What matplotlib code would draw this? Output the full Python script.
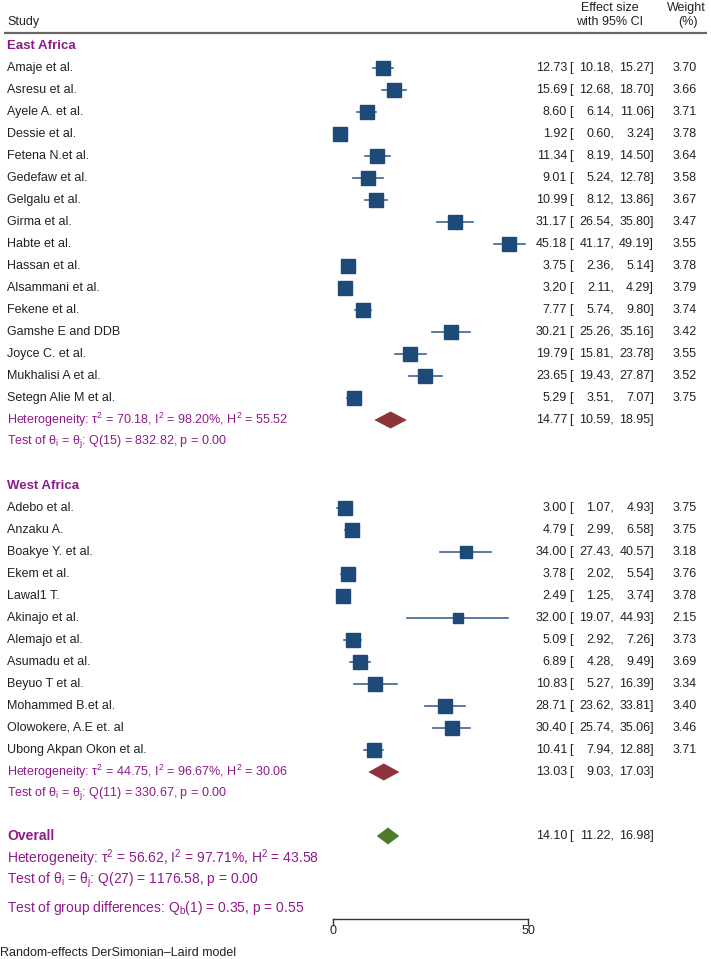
import numpy as np
import matplotlib.pyplot as plt

plt.rcParams['font.family'] = ['Liberation Sans', 'DejaVu Sans']
plt.rcParams['mathtext.fontset'] = 'custom'
plt.rcParams['mathtext.rm'] = 'Liberation Sans'
plt.rcParams['mathtext.it'] = 'Liberation Sans:italic'

# East Africa studies
east_studies = ['Amaje et al.', 'Asresu et al.', 'Ayele A. et al.', 'Dessie et al.',
                'Fetena N.et al.', 'Gedefaw et al.', 'Gelgalu et al.', 'Girma et al.',
                'Habte et al.', 'Hassan et al.', 'Alsammani et al.', 'Fekene et al.',
                'Gamshe E and DDB', 'Joyce C. et al.', 'Mukhalisi A et al.', 'Setegn Alie M et al.']
east_es = [12.73, 15.69, 8.60, 1.92, 11.34, 9.01, 10.99, 31.17, 45.18, 3.75, 3.20, 7.77,
           30.21, 19.79, 23.65, 5.29]
east_lo = [10.18, 12.68, 6.14, 0.60, 8.19, 5.24, 8.12, 26.54, 41.17, 2.36, 2.11, 5.74,
           25.26, 15.81, 19.43, 3.51]
east_hi = [15.27, 18.70, 11.06, 3.24, 14.50, 12.78, 13.86, 35.80, 49.19, 5.14, 4.29, 9.80,
           35.16, 23.78, 27.87, 7.07]
east_w = [3.70, 3.66, 3.71, 3.78, 3.64, 3.58, 3.67, 3.47, 3.55, 3.78, 3.79, 3.74,
          3.42, 3.55, 3.52, 3.75]

# West Africa studies
west_studies = ['Adebo et al.', 'Anzaku A.', 'Boakye Y. et al.', 'Ekem et al.', 'Lawal1 T.',
                'Akinajo et al.', 'Alemajo et al.', 'Asumadu et al.', 'Beyuo T et al.',
                'Mohammed B.et al.', 'Olowokere, A.E et. al', 'Ubong Akpan Okon et al.']
west_es = [3.00, 4.79, 34.00, 3.78, 2.49, 32.00, 5.09, 6.89, 10.83, 28.71, 30.40, 10.41]
west_lo = [1.07, 2.99, 27.43, 2.02, 1.25, 19.07, 2.92, 4.28, 5.27, 23.62, 25.74, 7.94]
west_hi = [4.93, 6.58, 40.57, 5.54, 3.74, 44.93, 7.26, 9.49, 16.39, 33.81, 35.06, 12.88]
west_w = [3.75, 3.75, 3.18, 3.76, 3.78, 2.15, 3.73, 3.69, 3.34, 3.40, 3.46, 3.71]

# pooled estimates (es, lo, hi)
east_pool = (14.77, 10.59, 18.95)
west_pool = (13.03, 9.03, 17.03)
overall_pool = (14.10, 11.22, 16.98)

east_het = r'Heterogeneity: τ$^2$ = 70.18, I$^2$ = 98.20%, H$^2$ = 55.52'
east_test = r'Test of θ$_\mathrm{i}$ = θ$_\mathrm{j}$: Q(15) = 832.82, p = 0.00'
west_het = r'Heterogeneity: τ$^2$ = 44.75, I$^2$ = 96.67%, H$^2$ = 30.06'
west_test = r'Test of θ$_\mathrm{i}$ = θ$_\mathrm{j}$: Q(11) = 330.67, p = 0.00'
all_het = r'Heterogeneity: τ$^2$ = 56.62, I$^2$ = 97.71%, H$^2$ = 43.58'
all_test = r'Test of θ$_\mathrm{i}$ = θ$_\mathrm{j}$: Q(27) = 1176.58, p = 0.00'
group_test = r'Test of group differences: Q$_\mathrm{b}$(1) = 0.35, p = 0.55'

x_ticks = [0, 50]

BLUE = '#1d4a78'
RED = '#8c3439'
GREEN = '#4f7a2c'
PURPLE = '#8e1b8c'
TXT = '#222222'

W, H = 711, 959
fig = plt.figure(figsize=(W / 100, H / 100), dpi=100)
ax = fig.add_axes([0, 0, 1, 1])
x0, scale = 333, 3.9  # pixel of 0, pixels per unit
ax.set_xlim(-x0 / scale, (W - x0) / scale)
ax.set_ylim(H, 0)
ax.axis('off')


def px(p):
    return (p - x0) / scale


def ci_text(y, es, lo, hi, w=None):
    ax.text(px(567), y, f'{es:.2f}', ha='right', va='center', fontsize=9, color=TXT)
    ax.text(px(569), y, '[', ha='left', va='center', fontsize=9, color=TXT)
    ax.text(px(614), y, f'{lo:.2f},', ha='right', va='center', fontsize=9, color=TXT)
    ax.text(px(654), y, f'{hi:.2f}]', ha='right', va='center', fontsize=9, color=TXT)
    if w is not None:
        ax.text(px(697), y, f'{w:.2f}', ha='right', va='center', fontsize=9, color=TXT)


def diamond(y, es, lo, hi, color):
    ax.fill([lo, es, hi, es], [y, y - 8.5, y, y + 8.5], color=color, lw=0)


# header
ax.text(px(7), 22, 'Study', ha='left', va='center', fontsize=9, color=TXT)
ax.text(px(610), 8, 'Effect size', ha='center', va='center', fontsize=9, color=TXT)
ax.text(px(610), 22, 'with 95% CI', ha='center', va='center', fontsize=9, color=TXT)
ax.text(px(686), 8, 'Weight', ha='center', va='center', fontsize=9, color=TXT)
ax.text(px(688), 22, '(%)', ha='center', va='center', fontsize=9, color=TXT)
ax.plot([px(4), px(707)], [33, 33], color='#666666', lw=1.6, solid_capstyle='butt')


def group(y_head, name, studies, es, lo, hi, w, pool, het, test):
    ax.text(px(7), y_head, name, ha='left', va='center', fontsize=9.5,
            fontweight='bold', color=PURPLE)
    y = y_head + 22
    for s, e, l, h, wt in zip(studies, es, lo, hi, w):
        ax.text(px(7), y, s, ha='left', va='center', fontsize=9, color=TXT)
        ax.plot([l, h], [y, y], color=BLUE, lw=1.2, alpha=0.85)
        ax.plot(e, y, marker='s', ms=10 * np.sqrt(wt / 3.7), color=BLUE, mec=BLUE)
        ci_text(y, e, l, h, wt)
        y += 22
    ax.text(px(7), y, het, ha='left', va='center', fontsize=9, color=PURPLE)
    diamond(y, pool[0], pool[1], pool[2], RED)
    ci_text(y, *pool)
    ax.text(px(7), y + 22, test, ha='left', va='center', fontsize=9, color=PURPLE)
    return y + 22


y_end = group(46, 'East Africa', east_studies, east_es, east_lo, east_hi, east_w,
              east_pool, east_het, east_test)
y_end = group(y_end + 44, 'West Africa', west_studies, west_es, west_lo, west_hi, west_w,
              west_pool, west_het, west_test)

# overall
y = y_end + 42
ax.text(px(7), y, 'Overall', ha='left', va='center', fontsize=10,
        fontweight='bold', color=PURPLE)
diamond(y, overall_pool[0], overall_pool[1], overall_pool[2], GREEN)
ci_text(y, *overall_pool)
ax.text(px(7), y + 22, all_het, ha='left', va='center', fontsize=10, color=PURPLE)
ax.text(px(7), y + 44, all_test, ha='left', va='center', fontsize=10, color=PURPLE)
ax.text(px(7), y + 72, group_test, ha='left', va='center', fontsize=10, color=PURPLE)

# x axis
ya = 919
ax.plot([x_ticks[0], x_ticks[-1]], [ya, ya], color='#333333', lw=1)
for t in x_ticks:
    ax.plot([t, t], [ya, ya + 6], color='#333333', lw=1)
    ax.text(t, ya + 12, str(t), ha='center', va='center', fontsize=9, color=TXT)

ax.text(px(0), 953, 'Random-effects DerSimonian\u2013Laird model', ha='left', va='center',
        fontsize=9, color=TXT)

fig.savefig('out.png', dpi=100)
